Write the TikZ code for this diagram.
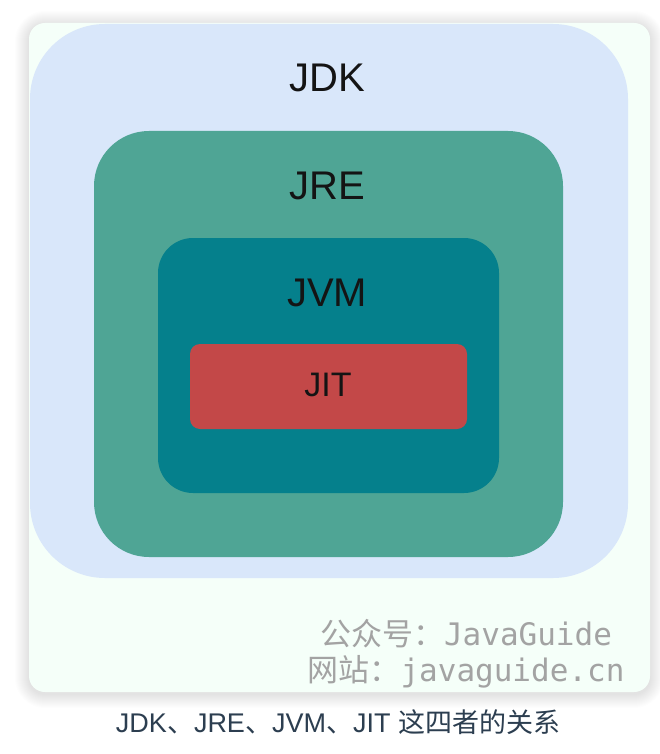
\documentclass[tikz,border=0pt]{standalone}
\usepackage{fontspec}
\setmainfont{Liberation Sans}
\newfontfamily\cjkfont{Noto Sans CJK SC}
\newfontfamily\markfont{DejaVu Sans Mono}
\usetikzlibrary{positioning}
\definecolor{cardbg}{HTML}{F5FFF9}
\definecolor{jdkfill}{HTML}{D9E7FA}
\definecolor{jrefill}{HTML}{4FA595}
\definecolor{jvmfill}{HTML}{05808C}
\definecolor{jitfill}{HTML}{C34848}
\definecolor{markgray}{HTML}{A3A3A3}
\definecolor{captionink}{HTML}{2C3E50}
\tikzset{
  layer/.style={draw=none,rounded corners=#1},
  layer label/.style={font=\fontsize{40}{48}\selectfont,text=black!92,anchor=base,inner sep=0pt},
  mark text/.style={font=\fontsize{31}{36}\selectfont,text=markgray,anchor=base,inner sep=0pt},
}

\begin{document}
\begin{tikzpicture}[x=1pt,y=-1pt]
  \useasboundingbox[fill=white] (0,0) rectangle (660,754);

  % soft shadow under the card
  \foreach \s in {1,...,14}
    \fill[black,opacity=0.008,rounded corners=16+\s]
      (29-\s,23-\s+2) rectangle (650+\s,692+\s+2);
  \fill[cardbg,rounded corners=16] (29,23) rectangle (650,692);

  % nested layers, outermost first
  \fill[jdkfill,layer=75] (30,24) rectangle (628,578);
  \fill[jrefill,layer=55] (94,131) rectangle (563,557);
  \fill[jvmfill,layer=35] (158,238) rectangle (499,493);
  \fill[jitfill,layer=10] (190,344) rectangle (467,429);

  \node[layer label] (jdk) at (327,92) {JDK};
  \node[layer label] (jre) at (327,199) {JRE};
  \node[layer label] (jvm) at (327,306) {JVM};
  \node[layer label,font=\fontsize{34}{40}\selectfont] (jit) at (328,396) {JIT};

  % watermark
  \node[mark text] (mark1) at (466,645) {{\cjkfont 公众号：}{\markfont JavaGuide}};
  \node[mark text] (mark2) at (466,681) {{\cjkfont 网站：}{\markfont javaguide.cn}};

  \node[font=\fontsize{27}{31}\selectfont,text=captionink,anchor=base,inner sep=0pt] (caption) at (338,732)
    {JDK{\cjkfont 、}JRE{\cjkfont 、}JVM{\cjkfont 、}JIT {\cjkfont 这四者的关系}};
\end{tikzpicture}
\end{document}
